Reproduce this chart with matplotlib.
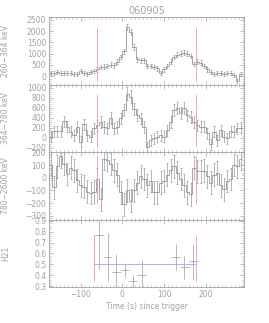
import numpy as np
import matplotlib
matplotlib.use("Agg")
import matplotlib.pyplot as plt
from matplotlib.ticker import MultipleLocator, AutoMinorLocator

# light curve bins (s since trigger)
bin_start = -176
bin_width = 8
n_bins = 58

rate_260_364 = [150, 150, 170, 160, 150, 160, 150, 80, 120, 220,
                150, 120, 200, 250, 300, 400, 430, 450, 520, 480,
                650, 850, 1100, 2200, 1950, 1300, 750, 700, 700, 450,
                450, 400, 350, 150, 300, 450, 650, 850, 950, 1000,
                1050, 1000, 900, 550, 650, 600, 450, 300, 200, 120,
                150, 150, 80, 130, 160, 50, -220, 100]
err_260_364 = [90, 90, 90, 90, 90, 90, 90, 90, 90, 90,
               90, 90, 90, 90, 95, 95, 95, 95, 100, 100,
               100, 105, 110, 130, 125, 115, 105, 100, 100, 95,
               95, 95, 95, 90, 95, 95, 100, 105, 105, 110,
               110, 110, 105, 100, 100, 100, 95, 95, 90, 90,
               90, 90, 90, 90, 90, 90, 90, 90]

rate_364_780 = [20, 130, 130, 130, 330, 220, 120, 50, 220, -80,
                270, 50, 20, 190, 250, 320, 220, 190, 400, 190,
                220, 390, 550, 880, 820, 570, 450, 390, 220, -190,
                -50, -10, 20, 50, 20, 150, 320, 550, 590, 490,
                590, 450, 420, 320, 250, 220, 220, 90, -130, 120,
                -50, 150, 20, -10, 130, 120, 190, 200]
err_364_780 = [110, 110, 110, 110, 115, 110, 110, 110, 110, 110,
               115, 110, 110, 110, 115, 115, 115, 110, 115, 110,
               115, 115, 120, 130, 130, 120, 120, 115, 115, 110,
               110, 110, 110, 110, 110, 110, 115, 120, 120, 120,
               120, 115, 115, 115, 115, 110, 110, 110, 110, 110,
               110, 110, 110, 110, 110, 110, 110, 110]

rate_780_2600 = [100, -75, 90, 170, 110, 30, 80, 60, -20, -60,
                 -70, -110, -120, -110, -10, -170, 150, 140, 110, 60,
                 25, -115, -210, -100, -180, -100, -40, 10, -10, -60,
                 -25, -115, -115, -40, -25, 25, 60, 90, 40, -10,
                 -60, -115, -130, 80, 50, 50, 55, 10, -40, 25,
                 40, -60, -90, -25, -10, 100, 90, 150]
err_780_2600 = [90] * n_bins

# hardness ratio
h21_t = [-56, -34, -14, 6, 26, 47, 128, 149, 170]
h21_dt = [12, 10, 10, 10, 10, 11, 10, 11, 11]
h21 = [0.767, 0.57, 0.427, 0.445, 0.345, 0.397, 0.57, 0.473, 0.527]
h21_lo = [0.31, 0.22, 0.15, 0.065, 0.06, 0.11, 0.12, 0.106, 0.167]
h21_hi = [0.16, 0.22, 0.17, 0.065, 0.06, 0.143, 0.115, 0.107, 0.158]
h21_mean = 0.5

t_red = [-61, 177]
t_red_h21 = [-68, 176]

GRAY = "#a2a2a2"
LINE = "#8e8e8e"
RED = "#f29aa3"
BLUE = "#a4a4ea"

plt.rcParams["font.family"] = ["DejaVu Sans"]
plt.rcParams["font.size"] = 5.5
plt.rcParams["text.color"] = GRAY
plt.rcParams["axes.labelcolor"] = GRAY
plt.rcParams["xtick.color"] = GRAY
plt.rcParams["ytick.color"] = GRAY
plt.rcParams["axes.edgecolor"] = GRAY

edges = bin_start + bin_width * np.arange(n_bins + 1)
centers = edges[:-1] + bin_width / 2

fig, axes = plt.subplots(4, 1, figsize=(2.69, 3.23), dpi=100, sharex=True)
fig.subplots_adjust(left=0.182, right=0.907, top=0.947, bottom=0.111, hspace=0)

panels = [
    (rate_260_364, err_260_364, "260\u2212364 keV", (-370, 2620), 500),
    (rate_364_780, err_364_780, "364\u2212780 keV", (-285, 1065), 200),
    (rate_780_2600, err_780_2600, "780\u22122600 keV", (-330, 202), 100),
]

for ax, (vals, errs, lab, ylim, major) in zip(axes[:3], panels):
    vals = np.array(vals)
    ax.stairs(vals, edges, baseline=None, color=LINE, lw=0.55)
    ax.errorbar(centers, vals, yerr=errs, fmt="none", ecolor=LINE,
                elinewidth=0.45, capsize=0.8, capthick=0.45)
    ax.vlines(t_red, vals.min(), vals.max(), color=RED, lw=0.6)
    ax.set_ylim(*ylim)
    ax.set_ylabel(lab)
    ax.yaxis.set_major_locator(MultipleLocator(major))

ax = axes[3]
ax.errorbar(h21_t, h21, xerr=h21_dt, yerr=[h21_lo, h21_hi], fmt="none",
            ecolor=LINE, elinewidth=0.45)
ax.vlines(t_red_h21, min(h21), max(h21), color=RED, lw=0.6)
ax.hlines(h21_mean, t_red_h21[0], t_red_h21[1], color=BLUE, lw=0.6)
ax.set_ylim(0.29, 0.91)
ax.yaxis.set_major_locator(MultipleLocator(0.1))
ax.set_ylabel("H21")
ax.set_xlabel("Time (s) since trigger", labelpad=2)

ax.set_xlim(-176, 292)
ax.xaxis.set_major_locator(MultipleLocator(100))
ax.xaxis.set_minor_locator(MultipleLocator(10))

for a in axes:
    a.yaxis.set_minor_locator(AutoMinorLocator(5))
    a.tick_params(which="both", direction="in", top=True, right=True, pad=2)
    a.tick_params(which="major", length=3, width=0.5)
    a.tick_params(which="minor", length=1.5, width=0.4)
    a.yaxis.set_label_coords(-0.2, 0.5)
    for s in a.spines.values():
        s.set_linewidth(0.6)

axes[0].set_title("060905", fontsize=7, pad=2, color=GRAY)

fig.savefig("out.png", dpi=100)
